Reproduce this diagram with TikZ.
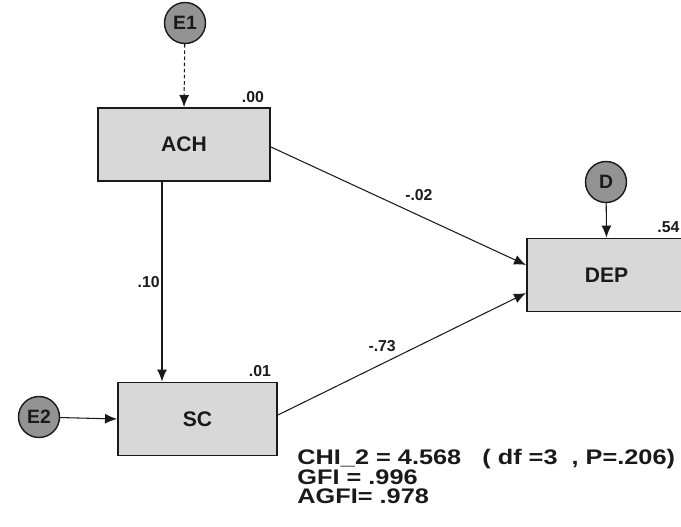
\documentclass[tikz,border=0pt]{standalone}
\usepackage{fontspec}
\setmainfont{Liberation Sans}
\usetikzlibrary{arrows.meta,positioning,calc}
\definecolor{Ink}{HTML}{1A1A1A}
\definecolor{Shade}{HTML}{D8D8D8}
\definecolor{Dark}{HTML}{939393}
\tikzset{var/.style={draw=Ink,fill=Shade,line width=1.1pt,minimum height=1.46cm,font=\bfseries\fontsize{12}{12}\selectfont,text=Ink},err/.style={circle,draw=Ink,fill=Dark,line width=.8pt,minimum size=.82cm,inner sep=0pt,font=\bfseries\fontsize{11}{11}\selectfont,text=Ink},flow/.style={-{Latex[length=2.4mm,width=2mm]},line width=.6pt,draw=Ink},lab/.style={font=\bfseries\fontsize{9}{9}\selectfont,text=Ink,inner sep=1pt}}

\begin{document}
\begin{tikzpicture}
\useasboundingbox (0,0) rectangle (13.62,-10.54);
\begin{scope}
\clip (0,0) rectangle (13.62,-10.54);
\node[var,minimum width=3.44cm] (ach) at (3.68,-2.89) {ACH};
\node[var,minimum width=3.18cm] (sc) at (3.95,-8.38) {SC};
\node[var,minimum width=3.18cm] (dep) at (12.13,-5.5) {DEP};
\node[err] (e1) at (3.70,-0.46) {E1};
\node[err] (e2) at (0.78,-8.34) {E2};
\node[err] (d) at (12.12,-3.64) {D};
\node[lab,anchor=south east] (r1) at ([xshift=-1mm,yshift=.5mm]ach.north east) {.00};
\node[lab,anchor=south east] (r2) at ([xshift=-1mm,yshift=.5mm]sc.north east) {.01};
\node[lab,anchor=south east] (r3) at ([xshift=-1.1mm,yshift=.5mm]dep.north east) {.54};
\draw[flow,dash pattern=on 2pt off 1.5pt] (e1)--(ach.north);
\draw[flow] (d)--(dep.north);
\draw[flow] (e2)--(sc.west);
\draw[flow] ([xshift=-4.4mm]ach.south)--([xshift=-4.4mm]ach.south |- sc.north) node[lab,midway,left] {.10};
\draw[flow] ([yshift=-.05cm]ach.east)--([yshift=.2cm]dep.west) node[lab,pos=.58,above=2.5mm] {-.02};
\draw[flow] ([yshift=.08cm]sc.east)--([yshift=-.36cm]dep.west) node[lab,pos=.42,above=2mm] {-.73};
\end{scope}
\node[anchor=north west,align=left,xscale=1.2,font=\bfseries\fontsize{12}{11.2}\selectfont,text=Ink,inner sep=0pt] (fit) at (5.94,-8.98) {CHI\_2 = 4.568 \ \ ( df =3 \ , P=.206)\\GFI = .996\\AGFI= .978};
\end{tikzpicture}
\end{document}
